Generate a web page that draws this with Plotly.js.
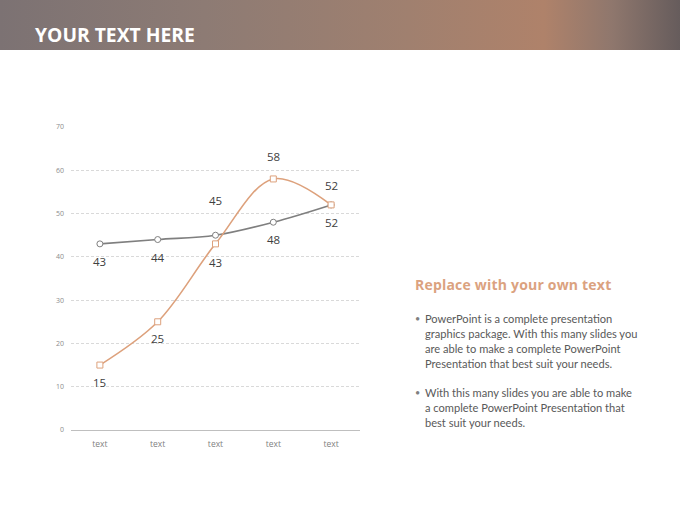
<!DOCTYPE html>
<html>
<head>
<meta charset="utf-8">
<script src="https://cdn.plot.ly/plotly-3.0.1.min.js"></script>
<style>
  body { margin: 0; width: 680px; height: 510px; overflow: hidden; background: #fff; font-family: "Open Sans", sans-serif; }
  #header { position: absolute; left: 0; top: 0; width: 680px; height: 50px;
    background: linear-gradient(to right, #7c7273 0%, #8d7b74 30%, #a0806f 60%, #af826a 80%, #8f776d 90%, #665c5c 100%); }
  #header span { position: absolute; left: 35px; top: 21px; color: #fff; font-weight: bold; font-size: 19.3px; }
  #chart { position: absolute; left: 0; top: 0; width: 680px; height: 510px; }
  #side { position: absolute; left: 415px; top: 275px; width: 250px; color: #595959; font-family: Lato, sans-serif; }
  #side h2 { margin: 0 0 17px 0; color: #dba27f; font-family: "Open Sans", sans-serif; font-size: 14px; font-weight: bold; letter-spacing: 0.2px; }
  #side ul { margin: 0; padding: 0 0 0 10px; list-style: none; }
  #side li { position: relative; font-size: 11.1px; line-height: 15px; margin-bottom: 14px; white-space: nowrap; }
  #side li:before { content: "\2022"; position: absolute; left: -10px; font-size: 9px; color: #7f7f7f; }
</style>
</head>
<body>
<div id="chart"></div>
<div id="header"><span>YOUR TEXT HERE</span></div>
<div id="side">
  <h2>Replace with your own text</h2>
  <ul>
    <li>PowerPoint is a complete presentation<br>graphics package. With this many slides you<br>are able to make a complete PowerPoint<br>Presentation that best suit your needs.</li>
    <li>With this many slides you are able to make<br>a complete PowerPoint Presentation that<br>best suit your needs.</li>
  </ul>
</div>
<script>
var categories = ['text', 'text', 'text', 'text', 'text'];
var seriesGray = [43, 44, 45, 48, 52];
var seriesOrange = [15, 25, 43, 58, 52];
// label offset in px (negative = below the point)
var grayLabelShift = [-18, -18, 35, -17, -18];
var orangeLabelShift = [-17, -17, -19, 22, 19];

var xIdx = categories.map(function (c, i) { return i; });

function lineTrace(y, color, symbol) {
  return {
    x: xIdx,
    y: y,
    type: 'scatter',
    mode: 'lines+markers',
    line: { color: color, width: 1.6, shape: 'spline', smoothing: 1 },
    marker: { symbol: symbol, size: 6, color: '#ffffff', line: { color: color, width: 1 } },
    hoverinfo: 'none'
  };
}

function labels(y, shifts) {
  return y.map(function (v, i) {
    return {
      x: i, y: v, xref: 'x', yref: 'y',
      text: String(v), showarrow: false, yshift: shifts[i],
      font: { family: 'Open Sans', size: 11.5, color: '#404040' }
    };
  });
}

var layout = {
  width: 680,
  height: 510,
  margin: { l: 71, r: 320, t: 127, b: 80 },
  paper_bgcolor: 'rgba(0,0,0,0)',
  plot_bgcolor: 'rgba(0,0,0,0)',
  showlegend: false,
  font: { family: 'Open Sans', color: '#8c8c8c' },
  annotations: labels(seriesGray, grayLabelShift).concat(labels(seriesOrange, orangeLabelShift)),
  xaxis: {
    range: [-0.5, 4.5],
    tickvals: xIdx,
    ticktext: categories,
    showgrid: false,
    zeroline: false,
    showline: true,
    linecolor: '#bfbfbf',
    linewidth: 1,
    ticks: '',
    ticklabelstandoff: 6,
    tickfont: { size: 8.5, color: '#7f7f7f' },
    fixedrange: true
  },
  yaxis: {
    range: [0, 70],
    tickvals: [0, 10, 20, 30, 40, 50, 60, 70],
    showgrid: true,
    gridcolor: '#d9d9d9',
    griddash: '3px,2px',
    gridwidth: 1,
    zeroline: false,
    showline: false,
    ticks: '',
    ticklabelstandoff: 6,
    tickfont: { size: 7, color: '#8c8c8c' },
    fixedrange: true
  }
};

Plotly.newPlot('chart', [lineTrace(seriesGray, '#7f7f7f', 'circle'), lineTrace(seriesOrange, '#dda17c', 'square')], layout, { displayModeBar: false, staticPlot: true });
</script>
</body>
</html>
